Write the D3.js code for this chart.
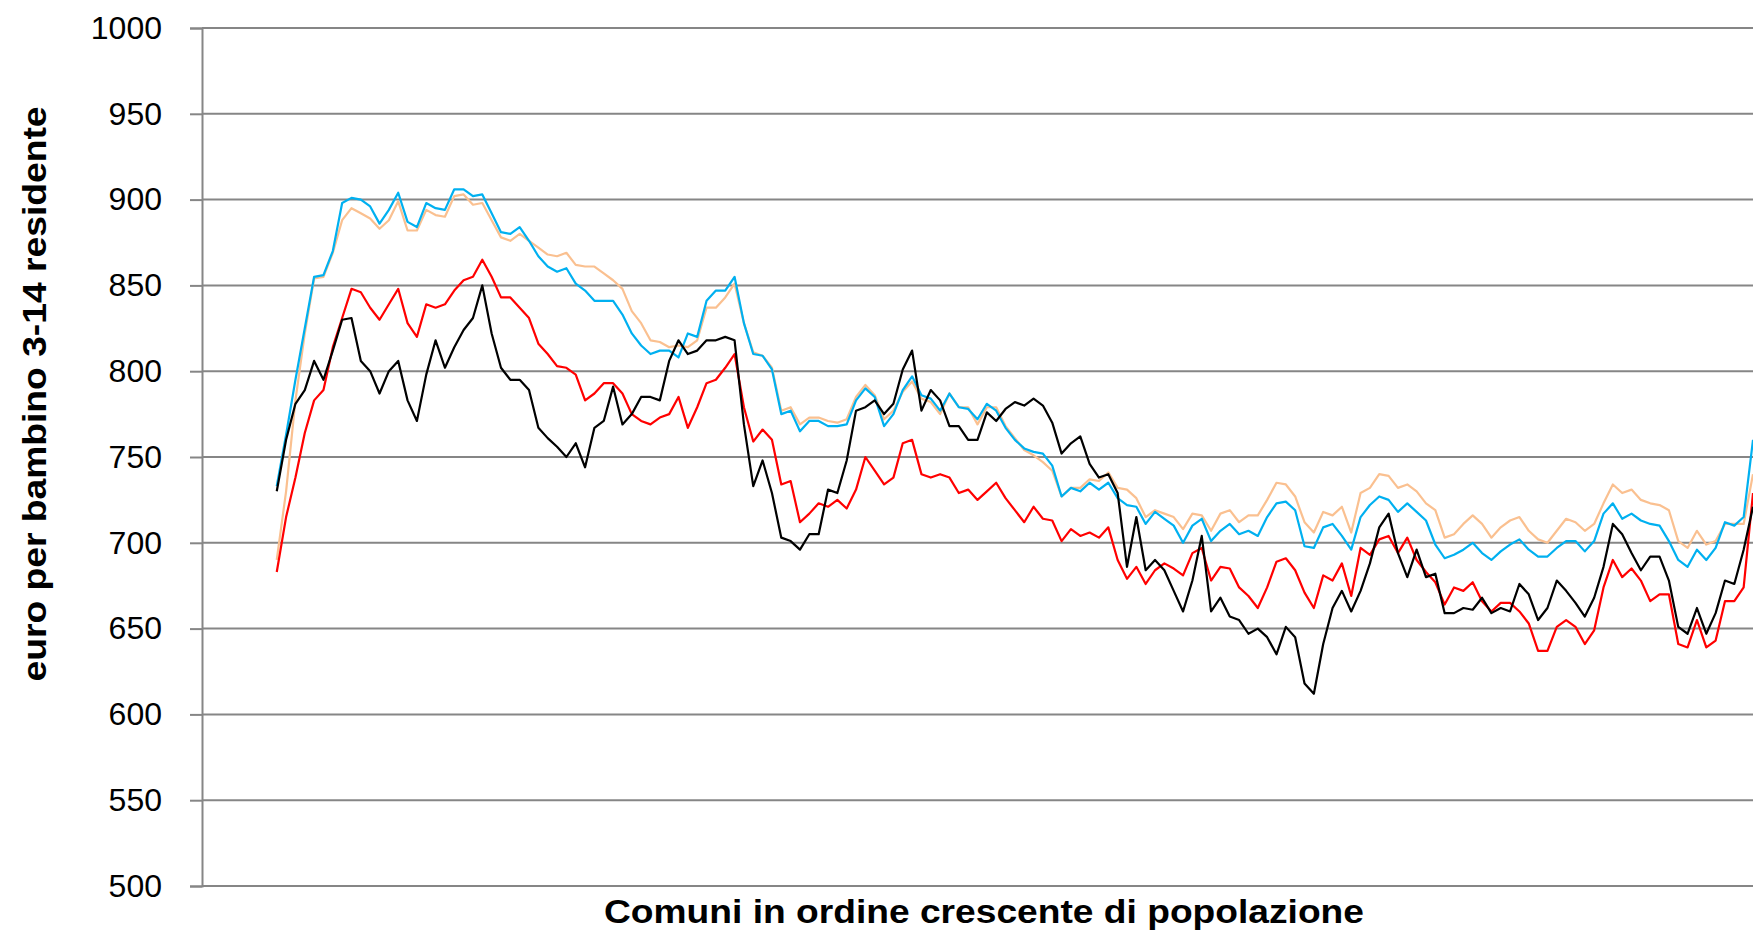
<!DOCTYPE html>
<html lang="it">

<head>
    <meta charset="UTF-8">
    <meta name="viewport" content="width=device-width, initial-scale=1.0">
    <title>Euro per bambino 3-14 residente</title>
    <script src="https://d3js.org/d3.v7.min.js"></script>
    <style>
        body,
        html {
            margin: 0;
            padding: 0;
            width: 100%;
            height: 100%;
            overflow: hidden;
            background: #fff;
        }

        svg {
            display: block;
            font-family: "Liberation Sans", Arial, sans-serif;
        }
    </style>
</head>

<body>
    <div id="chart"></div>

    <script>
        // asse y
        const yTicks = [500, 550, 600, 650, 700, 750, 800, 850, 900, 950, 1000];

        // comuni ordinati per popolazione: i primi non hanno ancora la media mobile
        const nComuni = 167;
        const firstComune = 8;

        const seriesPeach = [
            690, 730, 783, 822, 854, 855, 869, 888, 895, 892,
            889, 883, 888, 899, 882, 882, 894, 891, 890, 902,
            903, 897, 898, 888, 878, 876, 880, 876, 872, 868,
            867, 869, 862, 861, 861, 857, 853, 848, 835, 828,
            818, 817, 814, 815, 814, 818, 837, 837, 843, 851,
            828, 811, 809, 802, 777, 779, 769, 773, 773, 771,
            770, 772, 785, 792, 786, 772, 777, 788, 794, 784,
            782, 775, 787, 779, 779, 769, 779, 779, 768, 761,
            754, 751, 747, 742, 727, 732, 732, 737, 736, 741,
            732, 731, 726, 715, 719, 717, 715, 708, 717, 716,
            707, 717, 719, 712, 716, 716, 725, 735, 734, 727,
            712, 706, 718, 716, 721, 706, 729, 732, 740, 739,
            732, 734, 730, 723, 719, 703, 705, 711, 716, 711,
            703, 709, 713, 715, 707, 702, 700, 707, 714, 712,
            707, 711, 723, 734, 729, 731, 725, 723, 722, 719,
            701, 697, 707, 699, 701, 711, 711, 711, 740
        ];

        const seriesBlue = [
            733, 763, 795, 825, 855, 856, 870, 898, 901, 900,
            896, 886, 894, 904, 887, 884, 898, 895, 894, 906,
            906, 902, 903, 892, 881, 880, 884, 876, 867, 861,
            858, 860, 851, 847, 841, 841, 841, 833, 822, 815,
            810, 812, 812, 808, 822, 820, 841, 847, 847, 855,
            828, 810, 809, 801, 775, 777, 765, 771, 771, 768,
            768, 769, 783, 790, 785, 768, 775, 789, 797, 786,
            784, 777, 787, 779, 778, 772, 781, 777, 767, 760,
            755, 753, 752, 745, 727, 732, 730, 735, 731, 735,
            726, 722, 721, 711, 718, 714, 710, 700, 710, 714,
            701, 707, 711, 705, 707, 704, 715, 723, 724, 719,
            698, 697, 709, 711, 704, 696, 715, 722, 727, 725,
            718, 723, 718, 713, 699, 691, 693, 696, 700, 694,
            690, 695, 699, 702, 696, 692, 692, 697, 701, 701,
            695, 701, 717, 723, 714, 717, 713, 711, 710, 701,
            690, 686, 696, 690, 697, 712, 710, 715, 760
        ];

        const seriesRed = [
            683, 715, 738, 764, 783, 789, 814, 831, 848, 846,
            837, 830, 839, 848, 828, 820, 839, 837, 839, 847,
            853, 855, 865, 855, 843, 843, 837, 831, 816, 810,
            803, 802, 798, 783, 787, 793, 793, 787, 775, 771,
            769, 773, 775, 785, 767, 779, 793, 795, 802, 810,
            779, 759, 766, 760, 734, 736, 712, 717, 723, 721,
            725, 720, 731, 750, 742, 734, 738, 758, 760, 740,
            738, 740, 738, 729, 731, 725, 730, 735, 726, 719,
            712, 721, 714, 713, 701, 708, 704, 706, 703, 709,
            690, 679, 686, 676, 684, 688, 685, 681, 694, 697,
            678, 686, 685, 674, 669, 662, 674, 689, 691, 684,
            671, 662, 681, 678, 688, 669, 697, 693, 702, 704,
            694, 703, 690, 683, 677, 664, 674, 672, 677, 666,
            660, 665, 665, 660, 653, 637, 637, 651, 655, 651,
            641, 649, 674, 690, 680, 685, 678, 666, 670, 670,
            641, 639, 655, 639, 643, 666, 666, 674, 729
        ];

        const seriesBlack = [
            730, 760, 781, 789, 806, 795, 812, 830, 831, 806,
            800, 787, 800, 806, 783, 771, 798, 818, 802, 814,
            824, 831, 850, 822, 802, 795, 795, 789, 767, 761,
            756, 750, 758, 744, 767, 771, 791, 769, 775, 785,
            785, 783, 806, 818, 810, 812, 818, 818, 820, 818,
            769, 733, 748, 729, 703, 701, 696, 705, 705, 731,
            729, 748, 777, 779, 783, 775, 781, 801, 812, 777,
            789, 783, 768, 768, 760, 760, 776, 771, 778, 782,
            780, 784, 780, 770, 752, 758, 762, 746, 738, 740,
            729, 686, 715, 684, 690, 684, 672, 660, 678, 704,
            660, 668, 657, 655, 647, 650, 645, 635, 651, 645,
            618, 612, 641, 662, 672, 660, 672, 688, 709, 717,
            694, 680, 696, 680, 682, 659, 659, 662, 661, 668,
            659, 662, 660, 676, 670, 655, 662, 678, 672, 665,
            657, 668, 686, 711, 705, 694, 684, 692, 692, 678,
            651, 647, 662, 647, 659, 678, 676, 696, 721
        ];

        const series = [
            { values: seriesPeach, color: "#FAC090" },
            { values: seriesBlue, color: "#00B0F0" },
            { values: seriesRed, color: "#FF0000" },
            { values: seriesBlack, color: "#000000" }
        ];

        const width = 1753, height = 933;
        const plot = { left: 202, right: 1753, top: 28, bottom: 886 };
        const gridColor = "#868686";

        const svg = d3.select("#chart").append("svg")
            .attr("width", width)
            .attr("height", height);

        const x = d3.scaleLinear()
            .domain([0, nComuni - 1])
            .range([plot.left, plot.right]);

        const y = d3.scaleLinear()
            .domain([500, 1000])
            .range([plot.bottom, plot.top]);

        // griglia orizzontale
        svg.append("g")
            .selectAll("line")
            .data(yTicks)
            .enter().append("line")
            .attr("x1", plot.left)
            .attr("x2", plot.right)
            .attr("y1", d => y(d))
            .attr("y2", d => y(d))
            .style("stroke", gridColor)
            .style("stroke-width", 2);

        // asse y
        const yAxis = svg.append("g")
            .attr("transform", `translate(${plot.left},0)`)
            .call(d3.axisLeft(y)
                .tickValues(yTicks)
                .tickSize(12)
                .tickPadding(28)
                .tickFormat(d3.format("d")));

        yAxis.select(".domain")
            .style("stroke", gridColor)
            .style("stroke-width", 2);
        yAxis.selectAll(".tick line")
            .style("stroke", gridColor)
            .style("stroke-width", 2);
        yAxis.selectAll(".tick text")
            .style("font-family", "'Liberation Sans', Arial, sans-serif")
            .style("font-size", "32px")
            .style("fill", "#000");

        // linee
        const line = d3.line()
            .defined(d => d != null)
            .x(d => x(d.i))
            .y(d => y(d.v));

        series.forEach(s => {
            const pts = s.values.map((v, i) => ({ i: i + firstComune, v: v }));
            svg.append("path")
                .datum(pts)
                .attr("d", line)
                .style("fill", "none")
                .style("stroke", s.color)
                .style("stroke-width", 2.2)
                .style("stroke-linejoin", "round");
        });

        // titoli
        svg.append("text")
            .attr("x", 984)
            .attr("y", 923)
            .attr("text-anchor", "middle")
            .attr("textLength", 760)
            .attr("lengthAdjust", "spacingAndGlyphs")
            .style("font-size", "33px")
            .style("font-weight", "bold")
            .text("Comuni in ordine crescente di popolazione");

        svg.append("text")
            .attr("transform", "translate(46,394) rotate(-90)")
            .attr("text-anchor", "middle")
            .attr("textLength", 575)
            .attr("lengthAdjust", "spacingAndGlyphs")
            .style("font-size", "33px")
            .style("font-weight", "bold")
            .text("euro per bambino 3-14 residente");
    </script>
</body>

</html>
